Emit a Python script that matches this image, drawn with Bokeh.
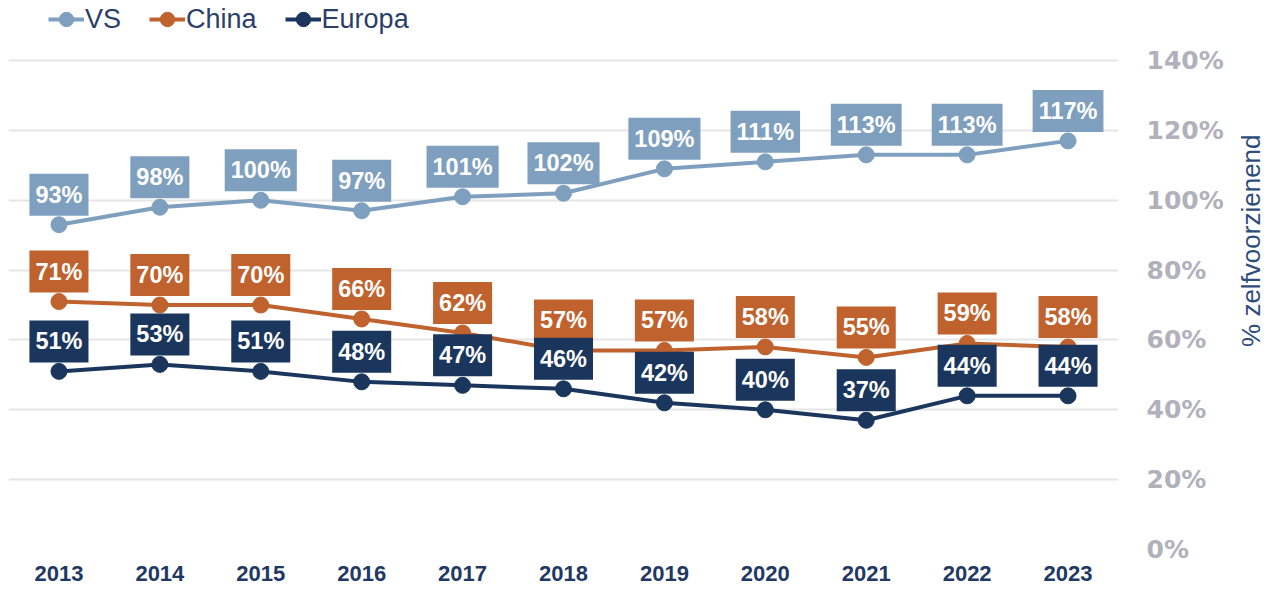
import math
from bokeh.plotting import figure
from bokeh.models import (FactorRange, Range1d, FixedTicker, PrintfTickFormatter,
                          Legend, LegendItem, LinearAxis, ColumnDataSource)
from bokeh.core.properties import value
from bokeh.embed import file_html
from bokeh.resources import INLINE

years = ["2013", "2014", "2015", "2016", "2017", "2018", "2019", "2020", "2021", "2022", "2023"]
vs = [93, 98, 100, 97, 101, 102, 109, 111, 113, 113, 117]
china = [71, 70, 70, 66, 62, 57, 57, 58, 55, 59, 58]
europa = [51, 53, 51, 48, 47, 46, 42, 40, 37, 44, 44]
series_names = ["VS", "China", "Europa"]
y_ticks = [0, 20, 40, 60, 80, 100, 120, 140]
axis_title = "% zelfvoorzienend"
title_anchor = 58  # y value where the rotated axis title starts

colors = ["#7f9fbf", "#c0622d", "#1b365d"]
navy = "#1f3864"

# y range extends above 140% to leave room for the legend inside the frame
p = figure(x_range=FactorRange(*years), y_range=Range1d(0, 157.2),
           width=1284, height=590, output_backend="svg", toolbar_location=None,
           y_axis_location="right",
           min_border_left=8, min_border_right=160, min_border_top=0, min_border_bottom=41)
p.outline_line_color = None
p.background_fill_color = "white"
p.xgrid.grid_line_color = None
p.ygrid.grid_line_color = "#e6e6e6"
p.ygrid.grid_line_width = 2

ya = p.yaxis[0]
ya.ticker = FixedTicker(ticks=y_ticks)
ya.formatter = PrintfTickFormatter(format="%d%%")
ya.axis_line_color = None
ya.major_tick_line_color = None
ya.minor_tick_line_color = None
ya.major_tick_out = 0
ya.major_tick_in = 0
ya.major_label_standoff = 28
ya.major_label_text_font = "DejaVu Sans"
ya.major_label_text_font_style = "bold"
ya.major_label_text_font_size = "25px"
ya.major_label_text_color = "#b1b1bb"

# second right axis whose single rotated tick label is the axis title
ya2 = LinearAxis(ticker=FixedTicker(ticks=[title_anchor]),
                 major_label_overrides={title_anchor: axis_title},
                 major_label_orientation=math.pi / 2,
                 major_label_standoff=25,
                 major_label_text_font="Liberation Sans",
                 major_label_text_font_style="normal",
                 major_label_text_font_size="26px",
                 major_label_text_color="#2e4d7b",
                 axis_line_color=None, major_tick_line_color=None,
                 minor_tick_line_color=None, major_tick_out=0, major_tick_in=0,
                 minor_tick_out=0, minor_tick_in=0)
p.add_layout(ya2, "right")

xa = p.xaxis[0]
xa.axis_line_color = None
xa.major_tick_line_color = None
xa.minor_tick_line_color = None
xa.major_tick_out = 0
xa.major_tick_in = 0
xa.major_label_standoff = 16
xa.major_label_text_font = "Liberation Sans"
xa.major_label_text_font_style = "bold"
xa.major_label_text_font_size = "22px"
xa.major_label_text_color = navy

items = []
sources = []
for name, vals, col in zip(series_names, [vs, china, europa], colors):
    src = ColumnDataSource(dict(x=years, y=vals, t=[f"{v}%" for v in vals]))
    sources.append((src, col))
    l = p.line("x", "y", source=src, line_width=4, line_color=col)
    s = p.scatter("x", "y", source=src, size=16, fill_color=col, line_color=col)
    items.append(LegendItem(label=name, renderers=[l, s]))

for src, col in sources:
    p.text("x", "y", text="t", source=src, y_offset=-30,
           text_font=value("Liberation Sans"), text_font_style="bold",
           text_font_size="23.5px", text_color="white",
           text_align="center", text_baseline="middle",
           background_fill_color=col, padding=(6, 8))

legend = Legend(items=items, location=(40, 510), orientation="horizontal",
                padding=0, margin=0, spacing=28, glyph_width=36, glyph_height=40,
                label_standoff=1, label_text_font="Liberation Sans",
                label_text_font_size="27px", label_text_color="#2c3e6a",
                background_fill_alpha=0, border_line_color=None)
p.add_layout(legend)

open("out.html", "w").write(file_html(p, INLINE))
